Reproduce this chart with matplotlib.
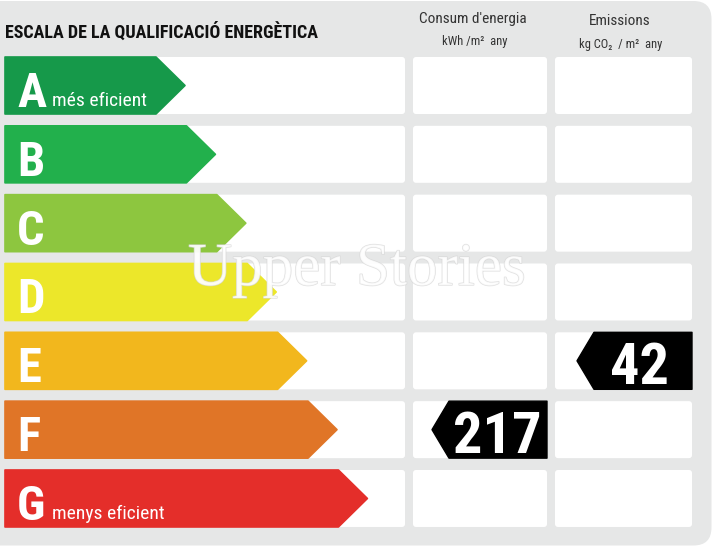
import matplotlib
matplotlib.use("Agg")
import matplotlib.pyplot as plt
from matplotlib.patches import Polygon, FancyBboxPatch
import matplotlib.patheffects as pe

# ---- data ----
classes = ["A", "B", "C", "D", "E", "F", "G"]
class_colors = ["#16994a", "#22b04c", "#8dc63f", "#ece72a", "#f2b71d", "#e07527", "#e42e2a"]
class_notes = {"A": "més eficient", "G": "menys eficient"}
title = "ESCALA DE LA QUALIFICACIÓ ENERGÈTICA"
col1_title = ["Consum d'energia", "kWh /m²  any"]
col2_title = ["Emissions", "kg CO₂  / m²  any"]
consum_value = 217
consum_class = "F"
emis_value = 42
emis_class = "E"
watermark = "Upper Stories"

COND = ["Roboto Condensed", "DejaVu Sans"]

W, H = 712, 547
fig = plt.figure(figsize=(W / 100, H / 100), dpi=100)
ax = fig.add_axes([0, 0, 1, 1])
ax.set_xlim(0, W)
ax.set_ylim(H, 0)
ax.axis("off")

BG = "#e6e7e7"
ax.add_patch(FancyBboxPatch((-30, 1), W + 30 - 0.5, H - 2.5,
                            boxstyle="round,pad=0,rounding_size=18",
                            fc=BG, ec="none", zorder=0))

row_top0 = 57.0
pitch = 68.83
row_h = 57.0
left_x0, left_x1 = 5, 405
mid_x0, mid_x1 = 413, 547
right_x0, right_x1 = 555, 692
tip0 = 185.0
tip_step = 30.4
slant = 29.0

def panel(x0, x1, y0):
    ax.add_patch(FancyBboxPatch((x0, y0), x1 - x0, row_h,
                                boxstyle="round,pad=0,rounding_size=3",
                                fc="white", ec="none", zorder=1))

for i, (c, col) in enumerate(zip(classes, class_colors)):
    y0 = row_top0 + i * pitch
    y1 = y0 + row_h
    ym = (y0 + y1) / 2
    panel(left_x0, left_x1, y0)
    panel(mid_x0, mid_x1, y0)
    panel(right_x0, right_x1, y0)
    tip = tip0 + i * tip_step
    body = tip - slant
    ax.add_patch(Polygon([(left_x0, y0), (body, y0), (tip, ym), (body, y1), (left_x0, y1)],
                         closed=True, fc=col, ec=col, lw=1.2, joinstyle="round", zorder=2))
    ax.text(17, y0 + 50, c, color="white", fontsize=35, fontweight="bold",
            family=COND, ha="left", va="baseline", zorder=3)
    if c in class_notes:
        ax.text(52, y0 + 49, class_notes[c], color="white", fontsize=14,
                family=COND, ha="left", va="baseline", zorder=3)

def marker(value, cls, x0, x1, dx):
    i = classes.index(cls)
    y0 = row_top0 + i * pitch
    y1 = y0 + row_h
    ym = (y0 + y1) / 2
    tipx = x0 + 19
    bodyx = tipx + 17
    ax.add_patch(Polygon([(tipx, ym), (bodyx, y0), (x1, y0), (x1, y1), (bodyx, y1)],
                         closed=True, fc="black", ec="black", lw=1, joinstyle="round", zorder=4))
    ax.text((bodyx + x1) / 2 + dx, y0 + 51.5, str(value), color="white", fontsize=42,
            fontweight="bold", family=COND, ha="center", va="baseline", zorder=5)

marker(consum_value, consum_class, mid_x0, mid_x1, -1)
marker(emis_value, emis_class, right_x0 + 3, right_x1, -3)

# header texts
ax.text(5, 37.5, title, fontsize=13, fontweight="bold", family=COND,
        ha="left", va="baseline", color="#111111")
ax.text(473, 23, col1_title[0], fontsize=11, family=COND, ha="center", va="baseline", color="#333333")
ax.text(475, 45, col1_title[1], fontsize=9, family=COND, ha="center", va="baseline", color="#333333")
ax.text(620, 25, col2_title[0], fontsize=11, family=COND, ha="center", va="baseline", color="#333333")
ax.text(621, 48, col2_title[1], fontsize=9, family=COND, ha="center", va="baseline", color="#333333")

# watermark
ax.text(357, 285, watermark, fontsize=44, family=["Liberation Serif", "DejaVu Serif"],
        color="white", alpha=0.75, ha="center", va="baseline", zorder=6,
        path_effects=[pe.withStroke(linewidth=1.0, foreground="#d6d6d6")])

fig.savefig("out.png", dpi=100, facecolor="white")
